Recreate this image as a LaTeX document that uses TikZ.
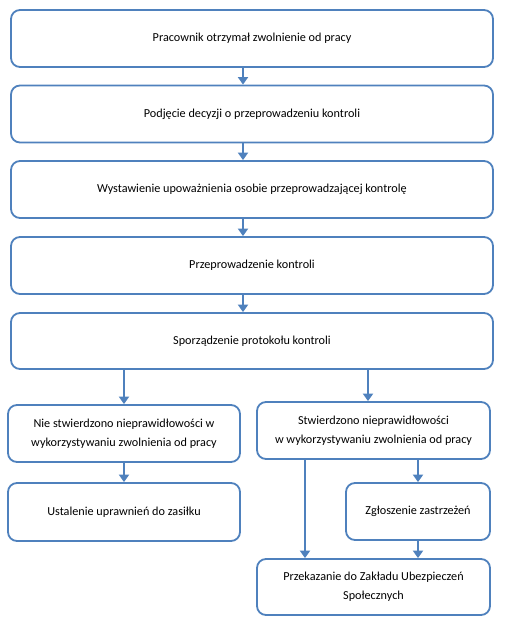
\documentclass[tikz,border=0pt]{standalone}
\usepackage{fontspec}
\setmainfont{Carlito}
\usetikzlibrary{arrows.meta}
\definecolor{ob}{HTML}{4F81BD}
\tikzset{
  box/.style={draw=ob, line width=1.8pt, rounded corners=9pt, fill=white,
    font=\fontsize{12.2}{19}\selectfont, align=center, inner sep=0pt, anchor=center},
  conn/.style={draw=ob, line width=2.8pt, -{Triangle[length=7.5pt,width=10pt]}, shorten >=0pt}
}
\begin{document}
\begin{tikzpicture}[x=1pt,y=-1pt]
\useasboundingbox (0,0) rectangle (508,628);
\node[box, minimum width=482pt, minimum height=57pt] (b1) at (252,38.5) {Pracownik otrzymał zwolnienie od pracy};
\node[box, minimum width=482pt, minimum height=57pt] (b2) at (252,114) {Podjęcie decyzji o przeprowadzeniu kontroli};
\node[box, minimum width=482pt, minimum height=57pt] (b3) at (252,189.5) {Wystawienie upoważnienia osobie przeprowadzającej kontrolę};
\node[box, minimum width=482pt, minimum height=57pt] (b4) at (252,265.5) {Przeprowadzenie kontroli};
\node[box, minimum width=482pt, minimum height=56pt] (b5) at (252,341) {Sporządzenie protokołu kontroli};
\node[box, minimum width=232pt, minimum height=57pt] (a) at (124,433.5) {Nie stwierdzono nieprawidłowości w\\wykorzystywaniu zwolnienia od pracy};
\node[box, minimum width=232pt, minimum height=58pt] (b) at (124,512) {Ustalenie uprawnień do zasiłku};
\node[box, minimum width=233pt, minimum height=57pt] (c) at (373.5,430.5) {Stwierdzono nieprawidłowości\\w wykorzystywaniu zwolnienia od pracy};
\node[box, minimum width=144pt, minimum height=57pt] (d) at (418,511.5) {Zgłoszenie zastrzeżeń};
\node[box, minimum width=233pt, minimum height=56pt] (e) at (373.5,587) {Przekazanie do Zakładu Ubezpieczeń\\Społecznych};
\draw[conn] (b1.south -| 243,0) -- (b2.north -| 243,0);
\draw[conn] (b2.south -| 243,0) -- (b3.north -| 243,0);
\draw[conn] (b3.south -| 243,0) -- (b4.north -| 243,0);
\draw[conn] (b4.south -| 243,0) -- (b5.north -| 243,0);
\draw[conn] (b5.south -| a.north) -- (a.north);
\draw[conn] (a.south) -- (b.north);
\draw[conn] (b5.south -| 368,0) -- (c.north -| 368,0);
\draw[conn] (c.south -| d.north) -- (d.north);
\draw[conn] (d.south) -- (e.north -| d.south);
\draw[conn] (c.south -| 305,0) -- (e.north -| 305,0);
\end{tikzpicture}
\end{document}
